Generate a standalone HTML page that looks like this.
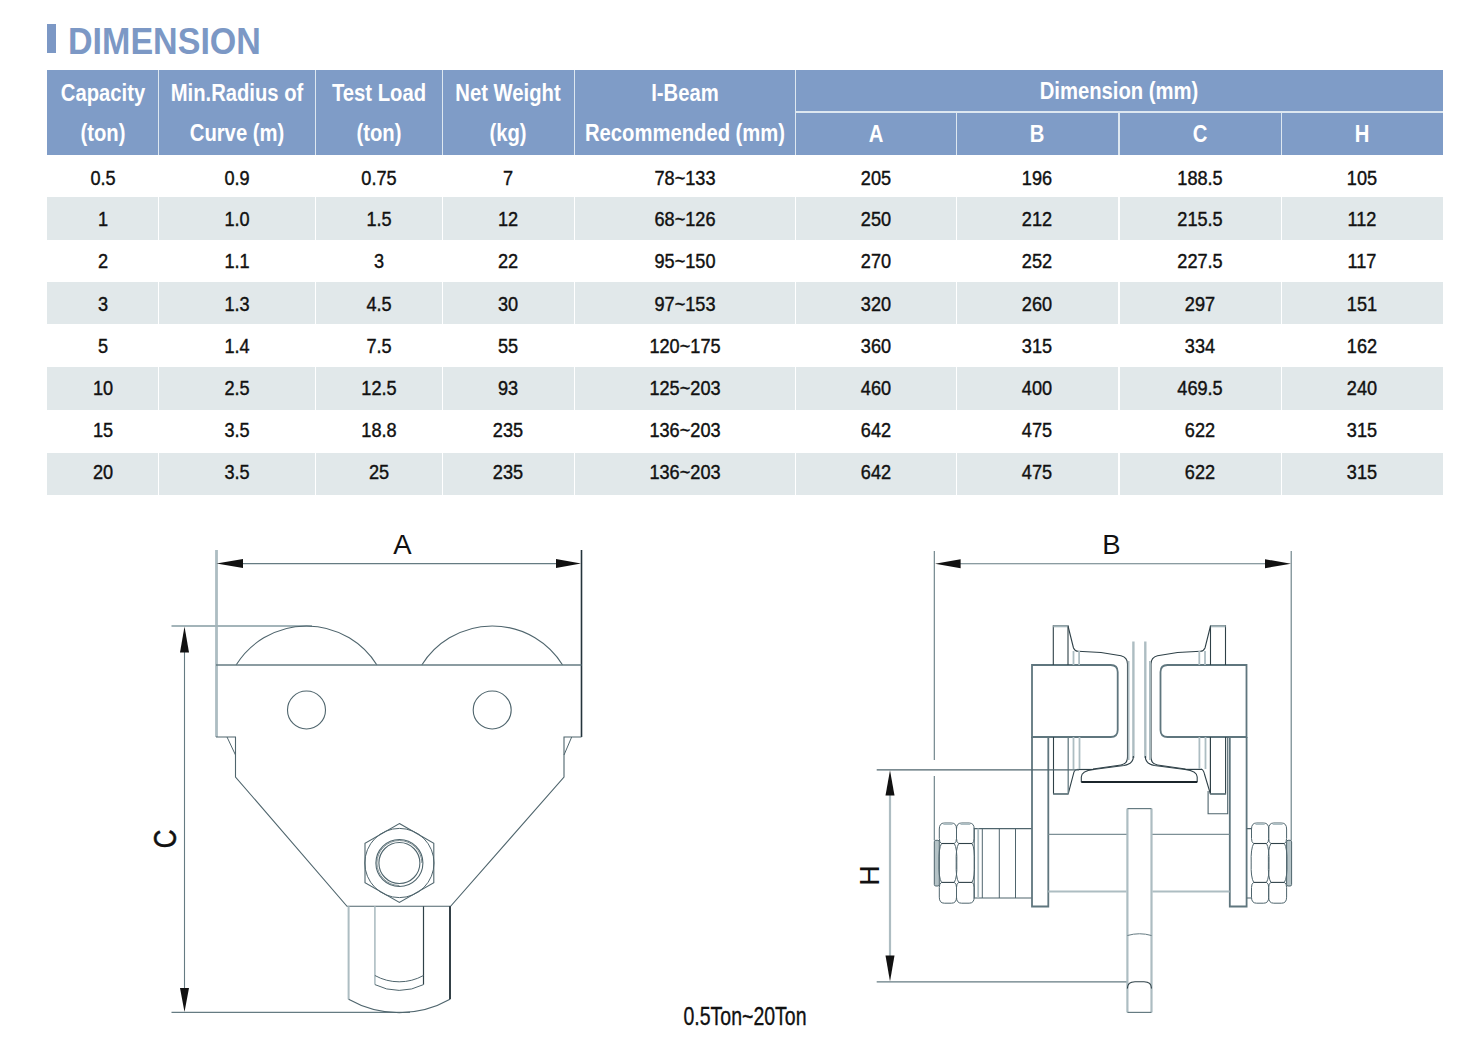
<!DOCTYPE html>
<html><head><meta charset="utf-8"><style>
html,body{margin:0;padding:0;background:#fff;}
#pg{position:relative;width:1481px;height:1049px;overflow:hidden;background:#fff;font-family:"Liberation Sans",sans-serif;}
.hd{position:absolute;background:#7f9cc7;}
.gr{position:absolute;background:#e1e8ea;}
.vs{position:absolute;width:1.5px;background:#dde7f0;}
.ws{position:absolute;width:1.5px;background:#fff;}
.hs{position:absolute;height:1.5px;background:#dde7f0;}
.title{position:absolute;left:68px;top:23px;color:#7c98c5;font-weight:bold;font-size:37px;line-height:37px;transform-origin:0 0;transform:scaleX(0.92);white-space:nowrap;}
.bar{position:absolute;left:47px;top:24px;width:9px;height:29px;background:#7c98c5;}
svg{position:absolute;left:0;top:0;}

.ht{position:absolute;white-space:nowrap;color:#fff;font-weight:bold;font-size:23px;line-height:23px;}
.dt{position:absolute;white-space:nowrap;color:#111;-webkit-text-stroke:0.4px #111;font-size:19.5px;line-height:19.5px;transform:translateX(-50%) scaleX(0.93);}
</style></head><body><div id="pg">
<div class="bar"></div><div class="title">DIMENSION</div>
<div class="hd" style="left:47px;top:70px;width:1395.5px;height:85px"></div>
<div class="vs" style="left:157.65px;top:70px;height:85px"></div>
<div class="vs" style="left:314.65px;top:70px;height:85px"></div>
<div class="vs" style="left:441.65px;top:70px;height:85px"></div>
<div class="vs" style="left:573.65px;top:70px;height:85px"></div>
<div class="vs" style="left:794.65px;top:70px;height:85px"></div>
<div class="vs" style="left:955.65px;top:112px;height:43px"></div>
<div class="vs" style="left:1118.15px;top:112px;height:43px"></div>
<div class="vs" style="left:1280.65px;top:112px;height:43px"></div>
<div class="hs" style="left:795px;top:111.4px;width:647.5px"></div>
<div class="ht" style="left:102.5px;top:81.5px;transform:translateX(-50%) scaleX(0.88)">Capacity</div>
<div class="ht" style="left:102.5px;top:121.5px;transform:translateX(-50%) scaleX(0.88)">(ton)</div>
<div class="ht" style="left:236.5px;top:81.5px;transform:translateX(-50%) scaleX(0.88)">Min.Radius of</div>
<div class="ht" style="left:236.5px;top:121.5px;transform:translateX(-50%) scaleX(0.88)">Curve (m)</div>
<div class="ht" style="left:378.5px;top:81.5px;transform:translateX(-50%) scaleX(0.88)">Test Load</div>
<div class="ht" style="left:378.5px;top:121.5px;transform:translateX(-50%) scaleX(0.88)">(ton)</div>
<div class="ht" style="left:508.0px;top:81.5px;transform:translateX(-50%) scaleX(0.88)">Net Weight</div>
<div class="ht" style="left:508.0px;top:121.5px;transform:translateX(-50%) scaleX(0.88)">(kg)</div>
<div class="ht" style="left:684.5px;top:81.5px;transform:translateX(-50%) scaleX(0.88)">I-Beam</div>
<div class="ht" style="left:684.5px;top:121.5px;transform:translateX(-50%) scaleX(0.88)">Recommended (mm)</div>
<div class="ht" style="left:1118.75px;top:80.0px;transform:translateX(-50%) scaleX(0.88)">Dimension (mm)</div>
<div class="ht" style="left:875.5px;top:123.0px;transform:translateX(-50%) scaleX(0.88)">A</div>
<div class="ht" style="left:1037.25px;top:123.0px;transform:translateX(-50%) scaleX(0.88)">B</div>
<div class="ht" style="left:1199.75px;top:123.0px;transform:translateX(-50%) scaleX(0.88)">C</div>
<div class="ht" style="left:1361.75px;top:123.0px;transform:translateX(-50%) scaleX(0.88)">H</div>
<div class="dt" style="left:102.5px;top:168.5px">0.5</div>
<div class="dt" style="left:236.5px;top:168.5px">0.9</div>
<div class="dt" style="left:378.5px;top:168.5px">0.75</div>
<div class="dt" style="left:508.0px;top:168.5px">7</div>
<div class="dt" style="left:684.5px;top:168.5px">78~133</div>
<div class="dt" style="left:875.5px;top:168.5px">205</div>
<div class="dt" style="left:1037.25px;top:168.5px">196</div>
<div class="dt" style="left:1199.75px;top:168.5px">188.5</div>
<div class="dt" style="left:1361.75px;top:168.5px">105</div>
<div class="gr" style="left:47px;top:197px;width:1395.5px;height:42.5px"></div>
<div class="ws" style="left:157.65px;top:197px;height:42.5px"></div>
<div class="ws" style="left:314.65px;top:197px;height:42.5px"></div>
<div class="ws" style="left:441.65px;top:197px;height:42.5px"></div>
<div class="ws" style="left:573.65px;top:197px;height:42.5px"></div>
<div class="ws" style="left:794.65px;top:197px;height:42.5px"></div>
<div class="ws" style="left:955.65px;top:197px;height:42.5px"></div>
<div class="ws" style="left:1118.15px;top:197px;height:42.5px"></div>
<div class="ws" style="left:1280.65px;top:197px;height:42.5px"></div>
<div class="dt" style="left:102.5px;top:210.0px">1</div>
<div class="dt" style="left:236.5px;top:210.0px">1.0</div>
<div class="dt" style="left:378.5px;top:210.0px">1.5</div>
<div class="dt" style="left:508.0px;top:210.0px">12</div>
<div class="dt" style="left:684.5px;top:210.0px">68~126</div>
<div class="dt" style="left:875.5px;top:210.0px">250</div>
<div class="dt" style="left:1037.25px;top:210.0px">212</div>
<div class="dt" style="left:1199.75px;top:210.0px">215.5</div>
<div class="dt" style="left:1361.75px;top:210.0px">112</div>
<div class="dt" style="left:102.5px;top:252.0px">2</div>
<div class="dt" style="left:236.5px;top:252.0px">1.1</div>
<div class="dt" style="left:378.5px;top:252.0px">3</div>
<div class="dt" style="left:508.0px;top:252.0px">22</div>
<div class="dt" style="left:684.5px;top:252.0px">95~150</div>
<div class="dt" style="left:875.5px;top:252.0px">270</div>
<div class="dt" style="left:1037.25px;top:252.0px">252</div>
<div class="dt" style="left:1199.75px;top:252.0px">227.5</div>
<div class="dt" style="left:1361.75px;top:252.0px">117</div>
<div class="gr" style="left:47px;top:282px;width:1395.5px;height:42.3px"></div>
<div class="ws" style="left:157.65px;top:282px;height:42.3px"></div>
<div class="ws" style="left:314.65px;top:282px;height:42.3px"></div>
<div class="ws" style="left:441.65px;top:282px;height:42.3px"></div>
<div class="ws" style="left:573.65px;top:282px;height:42.3px"></div>
<div class="ws" style="left:794.65px;top:282px;height:42.3px"></div>
<div class="ws" style="left:955.65px;top:282px;height:42.3px"></div>
<div class="ws" style="left:1118.15px;top:282px;height:42.3px"></div>
<div class="ws" style="left:1280.65px;top:282px;height:42.3px"></div>
<div class="dt" style="left:102.5px;top:294.5px">3</div>
<div class="dt" style="left:236.5px;top:294.5px">1.3</div>
<div class="dt" style="left:378.5px;top:294.5px">4.5</div>
<div class="dt" style="left:508.0px;top:294.5px">30</div>
<div class="dt" style="left:684.5px;top:294.5px">97~153</div>
<div class="dt" style="left:875.5px;top:294.5px">320</div>
<div class="dt" style="left:1037.25px;top:294.5px">260</div>
<div class="dt" style="left:1199.75px;top:294.5px">297</div>
<div class="dt" style="left:1361.75px;top:294.5px">151</div>
<div class="dt" style="left:102.5px;top:336.5px">5</div>
<div class="dt" style="left:236.5px;top:336.5px">1.4</div>
<div class="dt" style="left:378.5px;top:336.5px">7.5</div>
<div class="dt" style="left:508.0px;top:336.5px">55</div>
<div class="dt" style="left:684.5px;top:336.5px">120~175</div>
<div class="dt" style="left:875.5px;top:336.5px">360</div>
<div class="dt" style="left:1037.25px;top:336.5px">315</div>
<div class="dt" style="left:1199.75px;top:336.5px">334</div>
<div class="dt" style="left:1361.75px;top:336.5px">162</div>
<div class="gr" style="left:47px;top:367px;width:1395.5px;height:42.8px"></div>
<div class="ws" style="left:157.65px;top:367px;height:42.8px"></div>
<div class="ws" style="left:314.65px;top:367px;height:42.8px"></div>
<div class="ws" style="left:441.65px;top:367px;height:42.8px"></div>
<div class="ws" style="left:573.65px;top:367px;height:42.8px"></div>
<div class="ws" style="left:794.65px;top:367px;height:42.8px"></div>
<div class="ws" style="left:955.65px;top:367px;height:42.8px"></div>
<div class="ws" style="left:1118.15px;top:367px;height:42.8px"></div>
<div class="ws" style="left:1280.65px;top:367px;height:42.8px"></div>
<div class="dt" style="left:102.5px;top:378.5px">10</div>
<div class="dt" style="left:236.5px;top:378.5px">2.5</div>
<div class="dt" style="left:378.5px;top:378.5px">12.5</div>
<div class="dt" style="left:508.0px;top:378.5px">93</div>
<div class="dt" style="left:684.5px;top:378.5px">125~203</div>
<div class="dt" style="left:875.5px;top:378.5px">460</div>
<div class="dt" style="left:1037.25px;top:378.5px">400</div>
<div class="dt" style="left:1199.75px;top:378.5px">469.5</div>
<div class="dt" style="left:1361.75px;top:378.5px">240</div>
<div class="dt" style="left:102.5px;top:420.5px">15</div>
<div class="dt" style="left:236.5px;top:420.5px">3.5</div>
<div class="dt" style="left:378.5px;top:420.5px">18.8</div>
<div class="dt" style="left:508.0px;top:420.5px">235</div>
<div class="dt" style="left:684.5px;top:420.5px">136~203</div>
<div class="dt" style="left:875.5px;top:420.5px">642</div>
<div class="dt" style="left:1037.25px;top:420.5px">475</div>
<div class="dt" style="left:1199.75px;top:420.5px">622</div>
<div class="dt" style="left:1361.75px;top:420.5px">315</div>
<div class="gr" style="left:47px;top:452.7px;width:1395.5px;height:42.6px"></div>
<div class="ws" style="left:157.65px;top:452.7px;height:42.6px"></div>
<div class="ws" style="left:314.65px;top:452.7px;height:42.6px"></div>
<div class="ws" style="left:441.65px;top:452.7px;height:42.6px"></div>
<div class="ws" style="left:573.65px;top:452.7px;height:42.6px"></div>
<div class="ws" style="left:794.65px;top:452.7px;height:42.6px"></div>
<div class="ws" style="left:955.65px;top:452.7px;height:42.6px"></div>
<div class="ws" style="left:1118.15px;top:452.7px;height:42.6px"></div>
<div class="ws" style="left:1280.65px;top:452.7px;height:42.6px"></div>
<div class="dt" style="left:102.5px;top:462.5px">20</div>
<div class="dt" style="left:236.5px;top:462.5px">3.5</div>
<div class="dt" style="left:378.5px;top:462.5px">25</div>
<div class="dt" style="left:508.0px;top:462.5px">235</div>
<div class="dt" style="left:684.5px;top:462.5px">136~203</div>
<div class="dt" style="left:875.5px;top:462.5px">642</div>
<div class="dt" style="left:1037.25px;top:462.5px">475</div>
<div class="dt" style="left:1199.75px;top:462.5px">622</div>
<div class="dt" style="left:1361.75px;top:462.5px">315</div>
<svg width="1481" height="1049" viewBox="0 0 1481 1049">
<g fill="none" stroke-linecap="butt" stroke-linejoin="miter">
<!-- ============ LEFT DRAWING ============ -->
<!-- extension lines A -->
<line x1="216.5" y1="550" x2="216.5" y2="737" stroke="#adbdc2" stroke-width="2.8"/>
<line x1="581.5" y1="550" x2="581.5" y2="737" stroke="#24343c" stroke-width="1.6"/>
<!-- A dim line -->
<line x1="230" y1="563.6" x2="570" y2="563.6" stroke="#657b82" stroke-width="1.1"/>
<path d="M216.5 563.6 L243 559.1 L243 568.1 Z" fill="#111" stroke="none"/>
<path d="M581 563.6 L556 559.1 L556 568.1 Z" fill="#111" stroke="none"/>
<!-- C top ext line -->
<line x1="171.5" y1="626" x2="312" y2="626" stroke="#a3b4b9" stroke-width="2.2"/>
<!-- C dim line -->
<line x1="184.5" y1="640" x2="184.5" y2="1000" stroke="#657b82" stroke-width="1.1"/>
<path d="M184.5 626.5 L180 652.5 L189 652.5 Z" fill="#111" stroke="none"/>
<path d="M184.5 1012 L180 988 L189 988 Z" fill="#111" stroke="none"/>
<!-- C bottom ext -->
<line x1="171.5" y1="1012.4" x2="410" y2="1012.4" stroke="#657b82" stroke-width="1.1"/>
<!-- wheels -->
<path d="M236.1 665 A83 83 0 0 1 376.9 665" stroke="#4f656d" stroke-width="1.1"/>
<path d="M421.8 665 A83 83 0 0 1 562.6 665" stroke="#4f656d" stroke-width="1.1"/>
<!-- plate top -->
<line x1="216" y1="665" x2="581.5" y2="665" stroke="#657b82" stroke-width="1.3"/>
<!-- holes -->
<circle cx="306.5" cy="710" r="19" stroke="#4f656d" stroke-width="1.1"/>
<circle cx="492.2" cy="710" r="19" stroke="#4f656d" stroke-width="1.1"/>
<!-- plate outline -->
<path d="M216 737 L235.5 737 L235.5 777 L347 906.3 L450.6 906.3 L564 777 L564 737 L581.5 737" stroke="#4f656d" stroke-width="1.1"/>
<line x1="227" y1="737" x2="235.5" y2="755" stroke="#4f656d" stroke-width="1"/>
<line x1="571.7" y1="737" x2="564" y2="755" stroke="#4f656d" stroke-width="1"/>
<!-- hex nut -->
<path d="M399.4 823.6 L433.8 843.3 L433.8 882.7 L399.4 902.4 L365 882.7 L365 843.3 Z" stroke="#4f656d" stroke-width="1.1"/>
<circle cx="399.4" cy="863" r="34.6" stroke="#4f656d" stroke-width="1"/>
<circle cx="399.4" cy="863" r="23.5" stroke="#4f656d" stroke-width="1.1"/>
<circle cx="399.4" cy="863" r="20.5" stroke="#4f656d" stroke-width="1.1"/>
<path d="M399.4 885.5 A22.5 22.5 0 1 1 421.9 863" stroke="#6f8288" stroke-width="0.9"/>
<!-- clevis -->
<line x1="348.6" y1="906.3" x2="348.6" y2="999.3" stroke="#adbdc2" stroke-width="2"/>
<line x1="450" y1="906.3" x2="450" y2="999.3" stroke="#1e2c33" stroke-width="1.8"/>
<path d="M348.6 999.3 A102.6 102.6 0 0 0 450 999.3" stroke="#4f656d" stroke-width="1.1"/>
<line x1="374.9" y1="906.3" x2="374.9" y2="984.6" stroke="#adbdc2" stroke-width="1.6"/>
<line x1="423.5" y1="906.3" x2="423.5" y2="984.6" stroke="#2f4148" stroke-width="1.2"/>
<path d="M374.9 975.5 A50 50 0 0 0 423.5 975.5" stroke="#4f656d" stroke-width="1"/>
<path d="M374.9 984.6 A53.8 53.8 0 0 0 423.5 984.6" stroke="#4f656d" stroke-width="1"/>
</g>
<text x="402.5" y="553.5" font-family="Liberation Sans" font-size="27.5" text-anchor="middle" fill="#111">A</text>
<text transform="translate(175.5,839) rotate(-90) scale(0.85,1)" font-family="Liberation Sans" font-size="30.5" text-anchor="middle" fill="#111" stroke="#111" stroke-width="0.5">C</text>
<text x="745" y="1025" font-family="Liberation Sans" font-size="25" text-anchor="middle" fill="#111" stroke="#111" stroke-width="0.35" transform="translate(745 0) scale(0.78 1) translate(-745 0)">0.5Ton~20Ton</text>
<g fill="none" stroke-linecap="butt" stroke-linejoin="miter">
<!-- ============ RIGHT DRAWING ============ -->
<line x1="934.3" y1="551" x2="934.3" y2="760" stroke="#657b82" stroke-width="1.1"/>
<line x1="934.3" y1="776" x2="934.3" y2="840.3" stroke="#657b82" stroke-width="1.1"/>
<line x1="1291.2" y1="551" x2="1291.2" y2="840.3" stroke="#657b82" stroke-width="1.1"/>
<line x1="950" y1="563.7" x2="1280" y2="563.7" stroke="#657b82" stroke-width="1.1"/>
<path d="M935 563.7 L960.6 559.2 L960.6 568.2 Z" fill="#111" stroke="none"/>
<path d="M1291 563.7 L1265 559.2 L1265 568.2 Z" fill="#111" stroke="none"/>
<!-- blocks -->
<path d="M1032 665 L1110.7 665 Q1117.7 665 1117.7 672 L1117.7 730 Q1117.7 737 1110.7 737 L1032 737 Z" stroke="#5f767e" stroke-width="1.8"/>
<path d="M1246.5 665 L1167.5 665 Q1160.5 665 1160.5 672 L1160.5 730 Q1160.5 737 1167.5 737 L1246.5 737 Z" stroke="#5f767e" stroke-width="1.8"/>
<!-- side plates -->
<path d="M1032 737 L1032 906.5 L1048.3 906.5 L1048.3 737" stroke="#5f767e" stroke-width="1.8"/>
<path d="M1229.8 737 L1229.8 906.5 L1246.6 906.5 L1246.6 737" stroke="#5f767e" stroke-width="1.8"/>
<!-- top flanges -->
<path d="M1053.3 665 L1053.3 625.8 L1068 625.8 L1068 665" stroke="#2f4148" stroke-width="1.1"/>
<line x1="1053.3" y1="626.3" x2="1068" y2="626.3" stroke="#a3b4b9" stroke-width="2"/>
<path d="M1225.5 665 L1225.5 625.8 L1210.5 625.8 L1210.5 665" stroke="#2f4148" stroke-width="1.1"/>
<line x1="1210.5" y1="626.3" x2="1225.5" y2="626.3" stroke="#a3b4b9" stroke-width="2"/>
<!-- tread profiles top -->
<path d="M1068 626 L1073.5 648 Q1075 651.3 1078 651.3 L1101 652.5 L1121 655.8 Q1127.5 657.5 1127.5 664 L1127.5 757 Q1127.5 764 1121 765 L1093 769" stroke="#2f4148" stroke-width="1.1"/>
<path d="M1210.5 626 L1205 648 Q1203.5 651.3 1200.5 651.3 L1177.5 652.5 L1157.5 655.8 Q1151 657.5 1151 664 L1151 757 Q1151 764 1157.5 765 L1185.5 769" stroke="#2f4148" stroke-width="1.1"/>
<line x1="1128.6" y1="661" x2="1128.6" y2="760" stroke="#adbdc2" stroke-width="1.8"/>
<line x1="1149.9" y1="661" x2="1149.9" y2="760" stroke="#adbdc2" stroke-width="1.8"/>
<line x1="1077" y1="769.5" x2="1094" y2="769.5" stroke="#2f4148" stroke-width="1.2"/>
<line x1="1184.5" y1="769.4" x2="1202" y2="769.4" stroke="#2f4148" stroke-width="1.2"/>
<!-- small gray lines -->
<g stroke="#adbdc2" stroke-width="1.8">
<line x1="1073.5" y1="651" x2="1073.5" y2="665"/>
<line x1="1079.1" y1="651" x2="1079.1" y2="665"/>
<line x1="1205" y1="651" x2="1205" y2="665"/>
<line x1="1199.3" y1="651" x2="1199.3" y2="665"/>
<line x1="1073.5" y1="737" x2="1073.5" y2="769"/>
<line x1="1079.5" y1="737" x2="1079.5" y2="769"/>
<line x1="1205.5" y1="737" x2="1205.5" y2="769"/>
<line x1="1199.4" y1="737" x2="1199.4" y2="769"/>
<line x1="1133.4" y1="641.5" x2="1133.4" y2="758" stroke-width="2.4"/>
<line x1="1145.3" y1="641.5" x2="1145.3" y2="758" stroke-width="2.4"/>
</g>
<!-- I-beam flange -->
<path d="M1133.4 756 Q1133.4 764 1124 765.5 L1093.4 769.5 Q1081.3 771 1081.3 777 L1081.3 782.2" stroke="#2f4148" stroke-width="1.1"/>
<path d="M1145.3 756 Q1145.3 764 1154.4 765.5 L1185 769.5 Q1197.2 771 1197.2 777 L1197.2 782.2" stroke="#2f4148" stroke-width="1.1"/>
<line x1="1081.3" y1="782" x2="1197.2" y2="782" stroke="#1b252b" stroke-width="2.2"/>
<!-- lower flanges -->
<path d="M1053.5 737 L1053.5 793.9 L1068.2 793.9 L1074 771.9 Q1075 769.5 1077.1 769.5" stroke="#2f4148" stroke-width="1.1"/>
<line x1="1068.2" y1="737" x2="1068.2" y2="793.9" stroke="#657b82" stroke-width="1.3"/>
<line x1="1210.4" y1="737" x2="1210.4" y2="793.9" stroke="#2f4148" stroke-width="1.2"/>
<path d="M1225.6 737 L1225.6 793.9 L1210.4 793.9 L1204.6 774.5 Q1203.5 769.3 1201 769.3" stroke="#2f4148" stroke-width="1.1"/>
<path d="M1208.1 791 L1208.1 813.8 L1227.7 813.8 L1227.7 737" stroke="#4f656d" stroke-width="1.1"/>
<line x1="1053.5" y1="793.9" x2="1068.2" y2="793.9" stroke="#6f8288" stroke-width="1.8"/>
<line x1="1210.4" y1="793.9" x2="1225.6" y2="793.9" stroke="#6f8288" stroke-width="1.8"/>
<!-- H dims -->
<line x1="876.7" y1="769.8" x2="1079" y2="769.8" stroke="#4f656d" stroke-width="1.3"/>
<line x1="890" y1="785" x2="890" y2="965" stroke="#aebdc2" stroke-width="2.2"/>
<path d="M890 770.3 L885.5 795.4 L894.5 795.4 Z" fill="#111" stroke="none"/>
<path d="M890 981.5 L885.5 955.5 L894.5 955.5 Z" fill="#111" stroke="none"/>
<line x1="876.7" y1="981.8" x2="1127.4" y2="981.8" stroke="#657b82" stroke-width="1.2"/>
<!-- load bar -->
<line x1="1127.4" y1="808.6" x2="1127.4" y2="1012.4" stroke="#adbdc2" stroke-width="2.2"/>
<line x1="1151.5" y1="808.6" x2="1151.5" y2="1012.4" stroke="#adbdc2" stroke-width="2.2"/>
<line x1="1127.4" y1="808.6" x2="1151.5" y2="808.6" stroke="#657b82" stroke-width="1.2"/>
<line x1="1127.4" y1="1012.4" x2="1151.5" y2="1012.4" stroke="#657b82" stroke-width="1.2"/>
<path d="M1127.4 935.5 Q1139.5 932 1151.5 935.5" stroke="#657b82" stroke-width="1"/>
<path d="M1127.4 988.5 Q1127.4 981.8 1135 981.8 L1144 981.8 Q1151.5 981.8 1151.5 988.5" stroke="#2f4148" stroke-width="1.1"/>
<!-- axle lines -->
<g stroke="#7d9096" stroke-width="1.3">
<line x1="1048.3" y1="834.3" x2="1126.5" y2="834.3"/>
<line x1="1152.4" y1="834.3" x2="1229.6" y2="834.3"/>
</g>
<g stroke="#adbdc2" stroke-width="1.8">
<line x1="1048.3" y1="891.5" x2="1126.5" y2="891.5"/>
<line x1="1152.4" y1="891.5" x2="1229.6" y2="891.5"/>
</g>
<!-- thread rect left -->
<path d="M1031.5 828.6 L974.2 828.6 L974.2 898 L1031.5 898" stroke="#4f656d" stroke-width="1.1"/>
<line x1="978.2" y1="828.6" x2="978.2" y2="898" stroke="#adbdc2" stroke-width="1.8"/>
<g stroke="#4f656d" stroke-width="1"><line x1="982.3" y1="828.6" x2="982.3" y2="898"/><line x1="999.3" y1="828.6" x2="999.3" y2="898"/><line x1="1015.5" y1="828.6" x2="1015.5" y2="898"/></g>
<!-- washer right -->
<path d="M1246.6 828.6 L1251.5 828.6 M1246.6 898 L1251.5 898" stroke="#4f656d" stroke-width="1.1"/>
<!-- bolt ends -->
<rect x="934.3" y="840.3" width="5" height="45.7" rx="1.5" stroke="#4f656d" stroke-width="1" fill="#b5c3c7"/>
<rect x="1286.6" y="840.3" width="5" height="45.7" rx="1.5" stroke="#4f656d" stroke-width="1" fill="#b5c3c7"/>
</g>
<g fill="none">
<path d="M944.3 823 Q939.3 823 939.3 829 L939.3 838.5 Q939.3 842.5 941.5 843.5 Q938.5 848.5 939.0 862.95 Q938.5 877.4 941.5 882.4 Q939.3 883.4 939.3 887.4 L939.3 897.2 Q939.3 903.2 944.3 903.2" stroke="#4f656d" stroke-width="1"/>
<path d="M951.5 823 Q956.5 823 956.5 829 L956.5 838.5 Q956.5 842.5 954.3 843.5 Q957.3 848.5 956.8 862.95 Q957.3 877.4 954.3 882.4 Q956.5 883.4 956.5 887.4 L956.5 897.2 Q956.5 903.2 951.5 903.2" stroke="#4f656d" stroke-width="1"/>
<line x1="944.3" y1="823" x2="951.5" y2="823" stroke="#4f656d" stroke-width="1"/>
<line x1="943.3" y1="824" x2="952.5" y2="824" stroke="#adbdc2" stroke-width="2"/>
<line x1="944.3" y1="903.2" x2="951.5" y2="903.2" stroke="#4f656d" stroke-width="1"/>
<line x1="941.5" y1="843.5" x2="954.3" y2="843.5" stroke="#2f4148" stroke-width="1.1"/>
<line x1="941.5" y1="882.4" x2="954.3" y2="882.4" stroke="#2f4148" stroke-width="1.1"/>
<path d="M961.5 823 Q956.5 823 956.5 829 L956.5 838.5 Q956.5 842.5 958.7 843.5 Q955.7 848.5 956.2 862.95 Q955.7 877.4 958.7 882.4 Q956.5 883.4 956.5 887.4 L956.5 897.2 Q956.5 903.2 961.5 903.2" stroke="#4f656d" stroke-width="1"/>
<path d="M969.2 823 Q974.2 823 974.2 829 L974.2 838.5 Q974.2 842.5 972.0 843.5 Q975.0 848.5 974.5 862.95 Q975.0 877.4 972.0 882.4 Q974.2 883.4 974.2 887.4 L974.2 897.2 Q974.2 903.2 969.2 903.2" stroke="#4f656d" stroke-width="1"/>
<line x1="961.5" y1="823" x2="969.2" y2="823" stroke="#4f656d" stroke-width="1"/>
<line x1="960.5" y1="824" x2="970.2" y2="824" stroke="#adbdc2" stroke-width="2"/>
<line x1="961.5" y1="903.2" x2="969.2" y2="903.2" stroke="#4f656d" stroke-width="1"/>
<line x1="958.7" y1="843.5" x2="972.0" y2="843.5" stroke="#2f4148" stroke-width="1.1"/>
<line x1="958.7" y1="882.4" x2="972.0" y2="882.4" stroke="#2f4148" stroke-width="1.1"/>
<path d="M1256.5 823 Q1251.5 823 1251.5 829 L1251.5 838.5 Q1251.5 842.5 1253.7 843.5 Q1250.7 848.5 1251.2 862.95 Q1250.7 877.4 1253.7 882.4 Q1251.5 883.4 1251.5 887.4 L1251.5 897.2 Q1251.5 903.2 1256.5 903.2" stroke="#4f656d" stroke-width="1"/>
<path d="M1263.7 823 Q1268.7 823 1268.7 829 L1268.7 838.5 Q1268.7 842.5 1266.5 843.5 Q1269.5 848.5 1269.0 862.95 Q1269.5 877.4 1266.5 882.4 Q1268.7 883.4 1268.7 887.4 L1268.7 897.2 Q1268.7 903.2 1263.7 903.2" stroke="#4f656d" stroke-width="1"/>
<line x1="1256.5" y1="823" x2="1263.7" y2="823" stroke="#4f656d" stroke-width="1"/>
<line x1="1255.5" y1="824" x2="1264.7" y2="824" stroke="#adbdc2" stroke-width="2"/>
<line x1="1256.5" y1="903.2" x2="1263.7" y2="903.2" stroke="#4f656d" stroke-width="1"/>
<line x1="1253.7" y1="843.5" x2="1266.5" y2="843.5" stroke="#2f4148" stroke-width="1.1"/>
<line x1="1253.7" y1="882.4" x2="1266.5" y2="882.4" stroke="#2f4148" stroke-width="1.1"/>
<path d="M1273.7 823 Q1268.7 823 1268.7 829 L1268.7 838.5 Q1268.7 842.5 1270.9 843.5 Q1267.9 848.5 1268.4 862.95 Q1267.9 877.4 1270.9 882.4 Q1268.7 883.4 1268.7 887.4 L1268.7 897.2 Q1268.7 903.2 1273.7 903.2" stroke="#4f656d" stroke-width="1"/>
<path d="M1281.6 823 Q1286.6 823 1286.6 829 L1286.6 838.5 Q1286.6 842.5 1284.3999999999999 843.5 Q1287.3999999999999 848.5 1286.8999999999999 862.95 Q1287.3999999999999 877.4 1284.3999999999999 882.4 Q1286.6 883.4 1286.6 887.4 L1286.6 897.2 Q1286.6 903.2 1281.6 903.2" stroke="#4f656d" stroke-width="1"/>
<line x1="1273.7" y1="823" x2="1281.6" y2="823" stroke="#4f656d" stroke-width="1"/>
<line x1="1272.7" y1="824" x2="1282.6" y2="824" stroke="#adbdc2" stroke-width="2"/>
<line x1="1273.7" y1="903.2" x2="1281.6" y2="903.2" stroke="#4f656d" stroke-width="1"/>
<line x1="1270.9" y1="843.5" x2="1284.3999999999999" y2="843.5" stroke="#2f4148" stroke-width="1.1"/>
<line x1="1270.9" y1="882.4" x2="1284.3999999999999" y2="882.4" stroke="#2f4148" stroke-width="1.1"/>
</g>
<text transform="translate(879,875.5) rotate(-90)" font-family="Liberation Sans" font-size="28.5" text-anchor="middle" fill="#111">H</text>
<text x="1111.5" y="554" font-family="Liberation Sans" font-size="27.5" text-anchor="middle" fill="#111">B</text>
</svg>

</div></body></html>
